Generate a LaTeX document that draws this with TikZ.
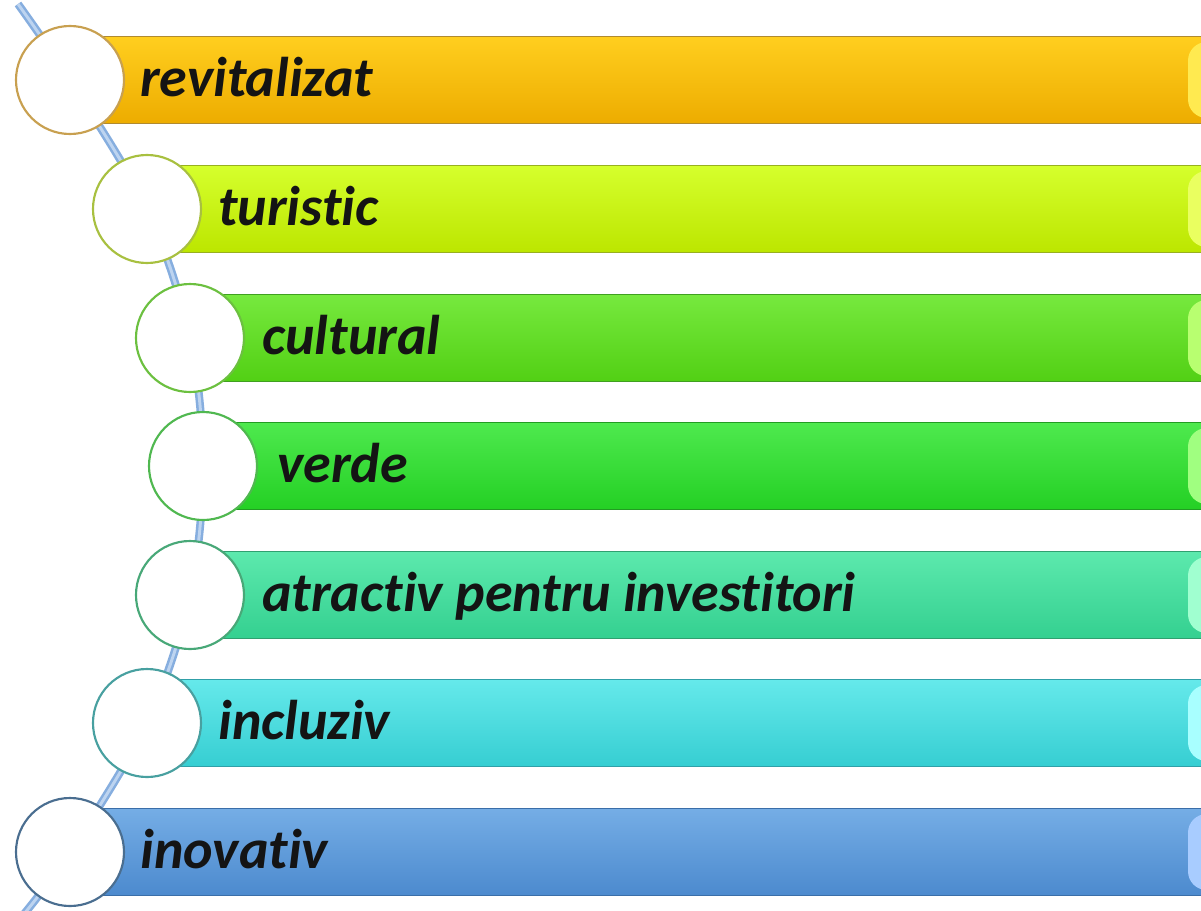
\documentclass[tikz,border=0pt]{standalone}
\usepackage{fontspec}
\setmainfont{Carlito}[Ligatures={NoCommon}]
\definecolor{spineblue}{HTML}{86AEDF}
\definecolor{spinelight}{HTML}{BDD4F0}
% bar colours: main / dark / edge / ring / tip
\definecolor{mA}{HTML}{FFC800}\definecolor{dA}{HTML}{EDAC00}\definecolor{eA}{HTML}{B08A30}\definecolor{rA}{HTML}{C8A050}\definecolor{tA}{HTML}{FFEA50}
\definecolor{mB}{HTML}{D0FF10}\definecolor{dB}{HTML}{BCE600}\definecolor{eB}{HTML}{98B020}\definecolor{rB}{HTML}{A8C040}\definecolor{tB}{HTML}{EAFF60}
\definecolor{mC}{HTML}{64E624}\definecolor{dC}{HTML}{52D014}\definecolor{eC}{HTML}{40A020}\definecolor{rC}{HTML}{6CC040}\definecolor{tC}{HTML}{B8FF70}
\definecolor{mD}{HTML}{36E636}\definecolor{dD}{HTML}{24D024}\definecolor{eD}{HTML}{229C22}\definecolor{rD}{HTML}{50B850}\definecolor{tD}{HTML}{A0FF80}
\definecolor{mE}{HTML}{46E6A2}\definecolor{dE}{HTML}{34D090}\definecolor{eE}{HTML}{30A070}\definecolor{rE}{HTML}{48A878}\definecolor{tE}{HTML}{A0FFD0}
\definecolor{mF}{HTML}{50E6E8}\definecolor{dF}{HTML}{36CED2}\definecolor{eF}{HTML}{30A0A8}\definecolor{rF}{HTML}{48A0A0}\definecolor{tF}{HTML}{A8FFFF}
\definecolor{mG}{HTML}{62A2E2}\definecolor{dG}{HTML}{4C8ACE}\definecolor{eG}{HTML}{3A6EA8}\definecolor{rG}{HTML}{4A6E90}\definecolor{tG}{HTML}{A8CCFF}
\begin{document}
\begin{tikzpicture}[x=0.75pt,y=-0.75pt,
  ringnode/.style={circle, fill=white, line width=1.6pt, minimum size=81pt, inner sep=0pt},
  lbl/.style={anchor=base west, font=\fontsize{42}{50}\selectfont\bfseries\itshape, text=black!92, inner sep=0pt},
  spine/.style={draw=spineblue, line width=1.9pt, double=spinelight, double distance=2.2pt},
  barshape/.style={line width=0.9pt}
]
\useasboundingbox (0,0) rectangle (1201,910);
\fill[white] (0,0) rectangle (1201,910);
\clip (0,0) rectangle (1201,910);

% circle centres
\coordinate (p1) at (70,80);
\coordinate (p2) at (147,209);
\coordinate (p3) at (190,338);
\coordinate (p4) at (203,466);
\coordinate (p5) at (190,595);
\coordinate (p6) at (147,723);
\coordinate (p7) at (70,852);
\coordinate (sTop) at (18,4);
\coordinate (sBot) at (24,914);

% spine
\draw[spine] plot[smooth, tension=0.55] coordinates {(sTop) (p1) (p2) (p3) (p4) (p5) (p6) (p7) (sBot)};

% bars
\foreach \cy/\cx/\k in {80/70/A, 209/147/B, 338/190/C, 466/203/D, 595/190/E, 723/147/F, 852/70/G}{
  \shade[barshape, draw=e\k, top color=m\k!88!white, middle color=m\k, bottom color=d\k]
    (\cx+30,\cy-43.5) rectangle (1240,\cy+43.5);
  \fill[t\k, rounded corners=14pt] (1188,\cy-38) rectangle (1260,\cy+38);
}

% circles and labels
\node[ringnode, draw=rA] (c1) at (p1) {};
\node[ringnode, draw=rB] (c2) at (p2) {};
\node[ringnode, draw=rC] (c3) at (p3) {};
\node[ringnode, draw=rD] (c4) at (p4) {};
\node[ringnode, draw=rE] (c5) at (p5) {};
\node[ringnode, draw=rF] (c6) at (p6) {};
\node[ringnode, draw=rG] (c7) at (p7) {};

\node[lbl] (t1) at (140,96) {revitalizat};
\node[lbl] (t2) at (218,225) {turistic};
\node[lbl] (t3) at (262,354) {cultural};
\node[lbl] (t4) at (277,482) {verde};
\node[lbl] (t5) at (262,611) {atractiv pentru investitori};
\node[lbl] (t6) at (218,739) {incluziv};
\node[lbl] (t7) at (140,868) {inovativ};
\end{tikzpicture}
\end{document}
